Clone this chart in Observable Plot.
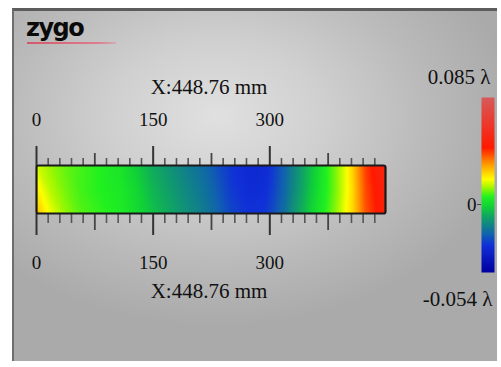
<!DOCTYPE html>
<html>
<head>
<meta charset="utf-8">
<script src="https://cdn.jsdelivr.net/npm/d3@7"></script>
<script src="https://cdn.jsdelivr.net/npm/@observablehq/plot@0.6"></script>
<style>
  html, body { margin: 0; padding: 0; background: #ffffff; }
  #wrap { position: relative; width: 501px; height: 367px; overflow: hidden; background: #fff; }
  #panel {
    position: absolute; left: 12px; top: 8px; width: 485px; height: 353px; box-sizing: border-box;
    border-top: 3px solid #5c5c5c; border-left: 2px solid #6e6e6e;
    background: radial-gradient(ellipse 62% 60% at 42% 30%, #e0e0e0 0%, #d0d0d0 35%, #bababa 70%, #aaaaaa 100%);
  }
  #logo {
    position: absolute; left: 26px; top: 16px; font-family: "DejaVu Sans", sans-serif; font-weight: bold;
    font-size: 24px; letter-spacing: -1.5px; color: #0a0a0a; line-height: 24px;
  }
  #logoline { position: absolute; left: 27px; top: 42px; width: 89px; height: 2px;
    background: linear-gradient(90deg, #d25868, #de7d8c 80%, rgba(222,125,140,0.35)); }
  .layer { position: absolute; left: 0; top: 0; }
</style>
</head>
<body>
<div id="wrap">
  <div id="panel"></div>
  <div id="logo">zygo</div>
  <div id="logoline"></div>
  <div id="main" class="layer"></div>
  <div id="cbar" class="layer"></div>
</div>
<script>
// ---- data ----
const lengthMM = 448.76;
const axisTitle = "X:448.76 mm";
const majorTicks = [0, 150, 300];
const midTicks = [75, 225, 375];
const minorTicks = [15, 30, 45, 60, 90, 105, 120, 135, 165, 180, 195, 210, 240, 255, 270, 285, 315, 330, 345, 360, 390, 405, 420, 435];

// profile positions along the part (mm)
const profileX  = [0, 18, 37, 57, 82, 108, 127, 147, 166, 185, 211, 230, 249, 275, 294, 307, 320, 329, 339, 350, 363, 375, 388, 398, 406, 414, 423, 437, 448.76];
// surface height (waves) along three rows of the strip
const rowTop    = [0.017, 0.013, 0.010, 0.008, 0.006, 0.003, -0.002, -0.008, -0.012, -0.016, -0.021, -0.026, -0.031, -0.035, -0.034, -0.029, -0.023, -0.017, -0.012, -0.006, 0.001, 0.007, 0.013, 0.019, 0.025, 0.033, 0.041, 0.048, 0.052];
const rowMid    = [0.022, 0.015, 0.011, 0.008, 0.006, 0.004, 0.000, -0.006, -0.010, -0.014, -0.019, -0.024, -0.030, -0.034, -0.033, -0.028, -0.022, -0.016, -0.011, -0.005, 0.002, 0.007, 0.013, 0.019, 0.024, 0.032, 0.040, 0.046, 0.050];
const rowBottom = [0.028, 0.019, 0.013, 0.009, 0.007, 0.005, 0.001, -0.004, -0.008, -0.012, -0.017, -0.022, -0.028, -0.032, -0.031, -0.026, -0.020, -0.014, -0.009, -0.003, 0.003, 0.008, 0.014, 0.020, 0.024, 0.031, 0.039, 0.045, 0.049];
const rowPos = [1, 0.5, 0];

// colour bar
const zMin = -0.054, zMax = 0.085;
const cbarLabels = ["0.085 λ", "-0.054 λ"];
const cbarTicks = [0];
const colorStops  = [-0.054, -0.032, -0.024, -0.016, -0.009, -0.002, 0.006, 0.014, 0.020, 0.032, 0.045, 0.085];
const colorValues = ["#0000a0", "#1030d8", "#1060b0", "#108585", "#10a860", "#10d038", "#20f020", "#a8f800", "#ffff00", "#ff9a00", "#ff1a00", "#d85a5a"];

const points = profileX.flatMap((x, i) => [
  {x, y: rowPos[0], v: rowTop[i]},
  {x, y: rowPos[1], v: rowMid[i]},
  {x, y: rowPos[2], v: rowBottom[i]}
]);

const colorOpts = {type: "linear", domain: colorStops, range: colorValues, interpolate: "rgb"};
const serif = "'Liberation Serif', 'Times New Roman', serif";

const main = Plot.plot({
  width: 501, height: 367,
  marginLeft: 36, marginRight: 116, marginTop: 165, marginBottom: 154,
  style: {background: "transparent", overflow: "visible", fontFamily: serif},
  x: {domain: [0, lengthMM]},
  y: {domain: [0, 1], axis: null},
  color: colorOpts,
  marks: [
    Plot.raster(points, {x: "x", y: "y", fill: "v", interpolate: "barycentric", x1: 0, x2: lengthMM, y1: 0, y2: 1}),
    // minor ticks
    Plot.axisX({anchor: "top", ticks: minorTicks, tickSize: 8, tickFormat: () => "", label: null, stroke: "#555", strokeWidth: 1.6}),
    Plot.axisX({anchor: "bottom", ticks: minorTicks, tickSize: 10, tickFormat: () => "", label: null, stroke: "#555", strokeWidth: 1.6}),
    // mid ticks
    Plot.axisX({anchor: "top", ticks: midTicks, tickSize: 13, tickFormat: () => "", label: null, stroke: "#444", strokeWidth: 1.8}),
    Plot.axisX({anchor: "bottom", ticks: midTicks, tickSize: 17, tickFormat: () => "", label: null, stroke: "#444", strokeWidth: 1.8}),
    // major ticks
    Plot.axisX({anchor: "top", ticks: majorTicks, tickSize: 20, tickFormat: () => "", label: null, stroke: "#333", strokeWidth: 2}),
    Plot.axisX({anchor: "bottom", ticks: majorTicks, tickSize: 22, tickFormat: () => "", label: null, stroke: "#333", strokeWidth: 2}),
    Plot.frame({stroke: "#1a1a1a", strokeWidth: 2.2, rx: 2}),
    // tick labels
    Plot.text(majorTicks, {x: d => d, frameAnchor: "top", text: d => String(d), lineAnchor: "bottom", dy: -40, fontSize: 19, fill: "#111"}),
    Plot.text(majorTicks, {x: d => d, frameAnchor: "bottom", text: d => String(d), lineAnchor: "bottom", dy: 55, fontSize: 19, fill: "#111"}),
    // axis titles
    Plot.text([axisTitle], {frameAnchor: "top", text: d => d, lineAnchor: "bottom", dy: -72, dx: -2, fontSize: 21, fill: "#111"}),
    Plot.text([axisTitle], {frameAnchor: "bottom", text: d => d, lineAnchor: "bottom", dy: 84, dx: -2, fontSize: 21, fill: "#111"})
  ]
});
document.getElementById("main").appendChild(main);

const cbar = Plot.plot({
  width: 501, height: 367,
  marginLeft: 481, marginRight: 7, marginTop: 97, marginBottom: 95,
  style: {background: "transparent", overflow: "visible", fontFamily: serif},
  x: {domain: [0, 1], axis: null},
  y: {domain: [zMin, zMax]},
  color: colorOpts,
  marks: [
    Plot.raster({fill: (x, y) => y, x1: 0, x2: 1, y1: zMin, y2: zMax, width: 1, height: 175}),
    Plot.axisY({anchor: "left", ticks: cbarTicks, tickSize: 4, tickPadding: 1, tickFormat: d => String(d), label: null, fontSize: 19, stroke: "#444", fill: "#111"}),
    Plot.text([cbarLabels[0]], {frameAnchor: "top-right", text: d => d, textAnchor: "end", lineAnchor: "bottom", dx: -4, dy: -14, fontSize: 21, fill: "#111"}),
    Plot.text([cbarLabels[1]], {frameAnchor: "bottom-right", text: d => d, textAnchor: "end", lineAnchor: "bottom", dx: -2, dy: 33, fontSize: 21, fill: "#111"})
  ]
});
document.getElementById("cbar").appendChild(cbar);
</script>
</body>
</html>
